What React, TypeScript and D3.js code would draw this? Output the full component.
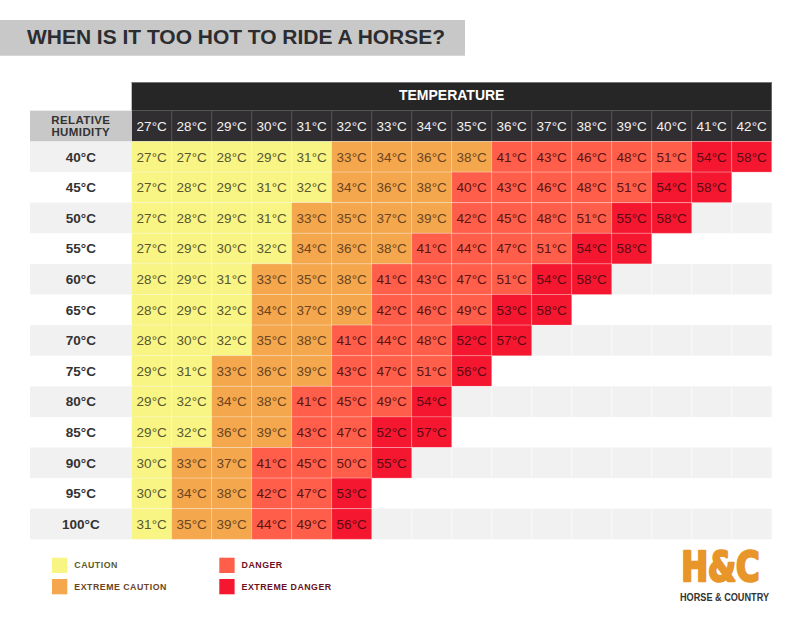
import React from "react";
import * as d3 from "d3";

const temperatures = [27, 28, 29, 30, 31, 32, 33, 34, 35, 36, 37, 38, 39, 40, 41, 42];
const humidities = [40, 45, 50, 55, 60, 65, 70, 75, 80, 85, 90, 95, 100];
const heatIndex: number[][] = [
  [27, 27, 28, 29, 31, 33, 34, 36, 38, 41, 43, 46, 48, 51, 54, 58],
  [27, 28, 29, 31, 32, 34, 36, 38, 40, 43, 46, 48, 51, 54, 58],
  [27, 28, 29, 31, 33, 35, 37, 39, 42, 45, 48, 51, 55, 58],
  [27, 29, 30, 32, 34, 36, 38, 41, 44, 47, 51, 54, 58],
  [28, 29, 31, 33, 35, 38, 41, 43, 47, 51, 54, 58],
  [28, 29, 32, 34, 37, 39, 42, 46, 49, 53, 58],
  [28, 30, 32, 35, 38, 41, 44, 48, 52, 57],
  [29, 31, 33, 36, 39, 43, 47, 51, 56],
  [29, 32, 34, 38, 41, 45, 49, 54],
  [29, 32, 36, 39, 43, 47, 52, 57],
  [30, 33, 37, 41, 45, 50, 55],
  [30, 34, 38, 42, 47, 53],
  [31, 35, 39, 44, 49, 56],
];
const levelNames = ["CAUTION", "EXTREME CAUTION", "DANGER", "EXTREME DANGER"];
const levelThresholds = [33, 40, 52];
const levelFills = ["#f8f584", "#f4a74d", "#ff5e4a", "#f5172f"];
const levelTextColors = ["#5a5630", "#6a4420", "#5e1212", "#5a0a14"];
const legendTextColors = ["#5c5a2a", "#6b4421", "#6b1020", "#6b1020"];

const title = "WHEN IS IT TOO HOT TO RIDE A HORSE?";

export default function App() {
  const x0 = 131.7;
  const x1 = 771.7;
  const y0 = 141.5;
  const y1 = 539.3;
  const x = d3.scaleBand<number>().domain(temperatures).range([x0, x1]);
  const y = d3.scaleBand<number>().domain(humidities).range([y0, y1]);
  const level = d3.scaleThreshold<number, number>().domain(levelThresholds).range([0, 1, 2, 3]);
  const bw = x.bandwidth();
  const bh = y.bandwidth();
  const font = "'Liberation Sans', Arial, sans-serif";

  return (
    <svg
      width={802}
      height={632}
      style={{ position: "absolute", left: 0, top: 0, background: "#fff" }}
      fontFamily={font}
    >
      {/* Title banner */}
      <rect x={0} y={20} width={465} height={35.7} fill="#c8c8c8" />
      <text
        x={27}
        y={43.5}
        fontSize={19.5}
        fontWeight={700}
        fill="#2b2d30"
        textLength={418}
        lengthAdjust="spacingAndGlyphs"
      >
        {title}
      </text>

      {/* Temperature header */}
      <rect x={x0} y={82} width={x1 - x0} height={28.7} fill="#262626" />
      <line x1={x0} x2={x1} y1={82.5} y2={82.5} stroke="#777" strokeWidth={1} />
      <text x={(x0 + x1) / 2} y={100.3} textAnchor="middle" fontSize={14} fontWeight={700} fill="#fff">
        TEMPERATURE
      </text>
      <rect x={x0} y={110.7} width={x1 - x0} height={y0 - 110.7} fill="#302e31" />
      {temperatures.map((t, i) => (
        <g key={"h" + t}>
          {i > 0 && (
            <line x1={x(t)!} x2={x(t)!} y1={110.7} y2={y0} stroke="#58565a" strokeWidth={1} />
          )}
          <text
            x={x(t)! + bw / 2}
            y={130.5}
            textAnchor="middle"
            fontSize={13.5}
            fill="#f2f2f2"
          >
            {t}°C
          </text>
        </g>
      ))}

      {/* Relative humidity label */}
      <rect x={30} y={110.7} width={x0 - 30} height={y0 - 110.7} fill="#c8c8c8" />
      <text x={80.8} y={124} textAnchor="middle" fontSize={11.5} fontWeight={700} fill="#333" letterSpacing={0.4}>
        RELATIVE
      </text>
      <text x={80.8} y={136} textAnchor="middle" fontSize={11.5} fontWeight={700} fill="#333" letterSpacing={0.4}>
        HUMIDITY
      </text>

      {/* Rows */}
      {humidities.map((h, ri) => {
        const yy = y(h)!;
        const grey = ri % 2 === 0;
        return (
          <g key={"r" + h}>
            {grey && <rect x={30} y={yy} width={x1 - 30} height={bh} fill="#f1f1f1" />}
            {grey &&
              temperatures.map((t, ci) =>
                ci >= heatIndex[ri].length && ci > 0 ? (
                  <line key={"g" + t} x1={x(t)!} x2={x(t)!} y1={yy} y2={yy + bh} stroke="#f9f9f9" strokeWidth={1} />
                ) : null
              )}
            <text
              x={80.8}
              y={yy + bh / 2}
              dy="0.36em"
              textAnchor="middle"
              fontSize={13.5}
              fontWeight={700}
              fill="#333"
            >
              {h}°C
            </text>
            {heatIndex[ri].map((v, ci) => {
              const t = temperatures[ci];
              const lv = level(v);
              return (
                <g key={"c" + t}>
                  <rect
                    x={x(t)!}
                    y={yy}
                    width={bw}
                    height={bh}
                    fill={levelFills[lv]}
                    stroke="rgba(255,255,255,0.22)"
                    strokeWidth={1}
                  />
                  <text
                    x={x(t)! + bw / 2}
                    y={yy + bh / 2}
                    dy="0.36em"
                    textAnchor="middle"
                    fontSize={13.5}
                    fill={levelTextColors[lv]}
                  >
                    {v}°C
                  </text>
                </g>
              );
            })}
          </g>
        );
      })}

      {/* Legend */}
      {levelNames.map((name, i) => {
        const col = Math.floor(i / 2);
        const row = i % 2;
        const lx = col === 0 ? 52 : 219.3;
        const ly = row === 0 ? 557.7 : 579;
        return (
          <g key={"l" + name}>
            <rect x={lx} y={ly} width={15.3} height={15.3} fill={levelFills[i]} />
            <text
              x={lx + 22.3}
              y={ly + 7.6}
              dy="0.36em"
              fontSize={8.8}
              fontWeight={700}
              fill={legendTextColors[i]}
              letterSpacing={0.5}
            >
              {name}
            </text>
          </g>
        );
      })}

      {/* Logo */}
      <text
        x={681.2}
        y={580.5}
        fontSize={40}
        fontWeight={900}
        fill="#e8952a"
        stroke="#e8952a"
        strokeWidth={2.6}
        strokeLinejoin="round"
        fontFamily="'DejaVu Sans', sans-serif"
        textLength={78.5}
        lengthAdjust="spacingAndGlyphs"
      >
        H&amp;C
      </text>
      <text
        x={680}
        y={601}
        fontSize={10.5}
        fontWeight={700}
        fill="#333"
        textLength={89}
        lengthAdjust="spacingAndGlyphs"
      >
        HORSE &amp; COUNTRY
      </text>
    </svg>
  );
}
